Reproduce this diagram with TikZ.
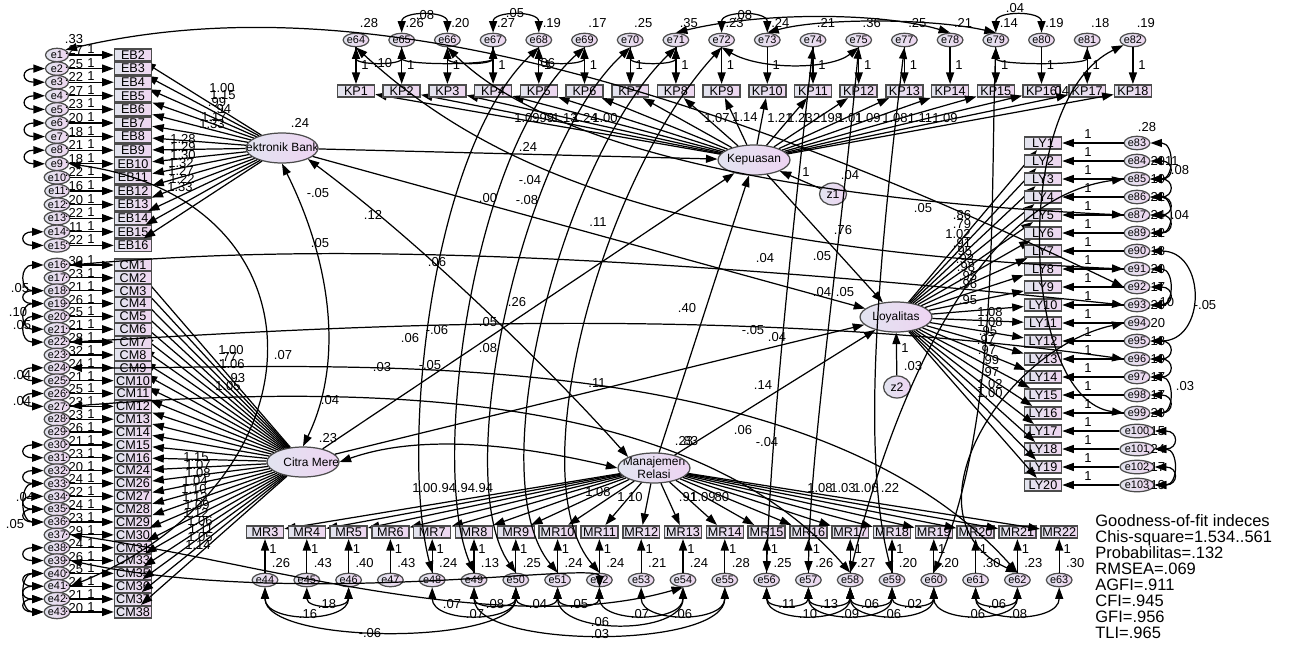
\documentclass[tikz,border=0pt]{standalone}
\usepackage{fontspec}
\setmainfont{Liberation Sans}
\usetikzlibrary{arrows.meta, shapes.geometric, positioning, calc}

\definecolor{boxleft}{RGB}{226,228,238}
\definecolor{boxright}{RGB}{238,214,240}
\definecolor{latleft}{RGB}{226,228,240}
\definecolor{latright}{RGB}{238,212,242}

\tikzset{
  indicator/.style={rectangle, draw=black!70, line width=0.9pt,
    left color=boxleft, right color=boxright,
    minimum width=0.74cm, minimum height=0.25cm, inner sep=0pt,
    font=\fontsize{7.2}{8}\selectfont},
  errorvar/.style={ellipse, draw=black!70, line width=0.7pt,
    left color=boxleft, right color=boxright,
    minimum width=0.46cm, minimum height=0.27cm, inner sep=0pt,
    font=\fontsize{6.2}{7}\selectfont},
  latent/.style={ellipse, draw=black!70, line width=0.7pt,
    left color=latleft, right color=latright,
    minimum width=1.44cm, minimum height=0.6cm, inner sep=0pt},
  latname/.style={path picture={\node[font=\fontsize{6.8}{7.6}\selectfont, align=center]
    at (path picture bounding box.center) {#1};}},
  disturb/.style={ellipse, draw=black!70, line width=0.7pt,
    left color=latleft, right color=latright,
    minimum width=0.54cm, minimum height=0.44cm, inner sep=0pt,
    font=\fontsize{7}{8}\selectfont},
  load/.style={-{Triangle[length=2.3mm,width=1.6mm]}, line width=0.7pt},
  cov/.style={{Triangle[length=2.3mm,width=1.6mm]}-{Triangle[length=2.3mm,width=1.6mm]}, line width=0.7pt},
  num/.style={font=\fontsize{7.4}{8}\selectfont, inner sep=0pt},
  fitnote/.style={font=\fontsize{9.4}{9.1}\selectfont, align=left, anchor=north west, inner sep=0pt}
}

\begin{document}
\begin{tikzpicture}[x=0.02cm, y=-0.02cm]
  \useasboundingbox (0,0) rectangle (1295,646);

  % latent variables and disturbances
  \node[latent, latname={\kern0.12cm Elektronik Banking}] (EBank) at (282,148) {};
  \node[latent, latname={\kern0.45cm Citra Merek}] (CitraM) at (303,462) {};
  \node[latent, latname={Kepuasan}] (Kep) at (754,160) {};
  \node[latent, latname={Loyalitas}] (Loy) at (896,317) {};
  \node[latent, latname={Manajemen\\Relasi}] (ManRel) at (654,468) {};
  \node[disturb] (z1) at (833,194) {z1};
  \node[disturb] (z2) at (897,387) {z2};

  % Elektronik Banking items
  \foreach \i in {1,...,15}{
    \pgfmathtruncatemacro\kk{\i+1}
    \pgfmathsetmacro\yy{55+(\i-1)*13.6}
    \node[indicator] (eb\kk) at (133,\yy) {EB\kk};
    \node[errorvar] (e\i) at (57,\yy) {e\i};
    \draw[load] (e\i) -- (eb\kk);
    \draw[load] (EBank) -- (eb\kk);
    \node[num] at ($(e\i)+(34,-6)$) {1};
  }
  \foreach \v [count=\i] in {.27,.25,.22,.27,.23,.20,.18,.21,.18,.22,.16,.20,.22,.11,.22}
    \node[num] at ($(e\i)+(17,-5)$) {\v};
  \node[num] at (74,39) {.33};

  % Citra Merek items
  \foreach \cc [count=\i] in {1,2,3,4,5,6,7,8,9,10,11,12,13,14,15,16,24,26,27,28,29,30,31,33,35,36,37,38}{
    \pgfmathtruncatemacro\nn{\i+15}
    \pgfmathsetmacro\yy{265+(\i-1)*12.85}
    \node[indicator] (cm\cc) at (133,\yy) {CM\cc};
    \node[errorvar] (e\nn) at (57,\yy) {e\nn};
    \draw[load] (e\nn) -- (cm\cc);
    \draw[load] (CitraM) -- (cm\cc);
    \node[num] at ($(e\nn)+(34,-5)$) {1};
  }
  \foreach \v [count=\i] in {.30,.23,.21,.26,.25,.21,.28,.32,.24,.21,.25,.23,.23,.26,.21,.23,.20,.24,.22,.24,.23,.29,.24,.26,.25,.24,.21,.20}{
    \pgfmathtruncatemacro\nn{\i+15}
    \node[num] at ($(e\nn)+(17,-4)$) {\v};
  }

  % Kepuasan items
  \foreach \nn [count=\i] in {64,65,66,67,68,69,70,71,72,73,74,75,77,78,79,80,81,82}{
    \pgfmathsetmacro\xx{356+(\i-1)*45.7}
    \node[indicator] (kp\i) at (\xx,91) {KP\i};
    \node[errorvar] (e\nn) at (\xx,40) {e\nn};
    \draw[load] (e\nn) -- (kp\i);
    \draw[load] (Kep) -- (kp\i);
    \node[num] at ($(e\nn)+(9,25)$) {1};
  }
  \foreach \nn/\v in {64/.28,65/.26,66/.20,67/.27,68/.19,69/.17,70/.25,71/.35,72/.23,
      73/.24,74/.21,75/.36,77/.25,78/.21,79/.14,80/.19,81/.18,82/.19}
    \node[num] at ($(e\nn)+(13,-17)$) {\v};

  % Loyalitas items
  \foreach \nn [count=\i] in {83,84,85,86,87,89,90,91,92,93,94,95,96,97,98,99,100,101,102,103}{
    \pgfmathsetmacro\yy{143+(\i-1)*18}
    \node[indicator] (ly\i) at (1043,\yy) {LY\i};
    \node[errorvar] (e\nn) at (1137,\yy) {e\nn};
    \draw[load] (e\nn) -- (ly\i);
    \draw[load] (Loy) -- (ly\i);
    \node[num] at ($(ly\i)+(45,-9)$) {1};
  }
  \node[num] at (1147,127) {.28};
  \foreach \nn/\v in {84/.29,85/.19,86/.22,87/.24,89/.12,90/.18,91/.20,92/.17,93/.20,94/.20,
      95/.18,96/.19,97/.17,98/.17,99/.20,100/.15,101/.24,102/.17,103/.19}
    \node[num] at ($(e\nn)+(19,0)$) {\v};

  % Manajemen Relasi items
  \foreach \i in {1,...,20}{
    \pgfmathtruncatemacro\kk{\i+2}
    \pgfmathtruncatemacro\nn{\i+43}
    \pgfmathsetmacro\xx{265+(\i-1)*41.8}
    \node[indicator] (mr\kk) at (\xx,532) {MR\kk};
    \node[errorvar] (e\nn) at (\xx,580) {e\nn};
    \draw[load] (e\nn) -- (mr\kk);
    \draw[load] (ManRel) -- (mr\kk);
    \node[num] at ($(e\nn)+(8,-31)$) {1};
  }
  \foreach \nn/\v in {44/.26,45/.43,46/.40,47/.43,48/.24,49/.13,50/.25,51/.24,52/.24,53/.21,
      54/.24,55/.28,56/.25,57/.26,58/.27,59/.20,60/.20,61/.30,62/.23,63/.30}
    \node[num] at ($(e\nn)+(16,-17)$) {\v};

  % structural paths
  \draw[load] (EBank) -- (Kep);
  \draw[load] (EBank) -- (Loy);
  \draw[load] (CitraM) -- (Kep);
  \draw[load] (CitraM) -- (Loy);
  \draw[load] (ManRel) -- (Kep);
  \draw[load] (ManRel) -- (Loy);
  \draw[load] (Kep) -- (Loy);
  \draw[load] (z1) -- (Kep);
  \draw[load] (z2) -- (Loy);

  % covariances between exogenous constructs
  \draw[cov] (EBank.south) .. controls (330,260) and (345,360) .. (CitraM.north);
  \draw[cov] (EBank.south east) .. controls (430,250) and (560,380) .. (ManRel.north west);
  \draw[cov] (CitraM.east) .. controls (430,430) and (540,450) .. (ManRel.west);

  % error covariances, left columns
  \foreach \a/\b in {2/3,4/5,6/7,8/9,14/15,16/18,18/19,19/21,20/22,24/25,26/27,30/31,
      32/33,34/35,35/36,33/36,38/39,40/41,41/42,42/43,40/43}
    \draw[cov] (e\a.west) .. controls +(-24,0) and +(-24,0) .. (e\b.west);

  % error covariances, Kepuasan row
  \foreach \a/\b in {65/66,67/68,72/73,79/80}
    \draw[cov] (e\a.north) .. controls +(0,-22) and +(0,-22) .. (e\b.north);
  \foreach \a/\b in {64/65,65/67,66/67,68/69,70/71,79/81}
    \draw[cov] (e\a.south) .. controls +(0,18) and +(0,18) .. (e\b.south);
  \draw[cov] (e71.north) .. controls (760,12) and (880,12) .. (e78.north);
  \draw[cov] (e73.north) .. controls (820,18) and (930,18) .. (e79.north);
  \draw[cov] (e72.south) .. controls (760,70) and (830,70) .. (e75.south);

  % error covariances, Loyalitas column
  \foreach \a/\b in {83/85,84/85,85/86,86/87,87/89,86/89,91/93,92/93,95/96,96/97,
      97/99,98/99,100/101,102/103,101/103}
    \draw[cov] (e\a.east) .. controls +(24,0) and +(24,0) .. (e\b.east);
  \draw[cov] (e90.east) .. controls +(56,0) and +(56,0) .. (e95.east);

  % error covariances, Manajemen Relasi row
  \foreach \a/\b/\d in {45/46/22,49/50/22,50/51/22,51/52/22,56/57/22,57/58/22,58/59/22,
      59/60/22,61/62/22,44/46/36,48/50/36,52/54/36,53/55/36,56/58/36,57/59/36,
      58/60/36,60/62/36,61/63/36,51/54/48,49/55/62,44/50/58}
    \draw[cov] (e\a.south) .. controls +(0,\d) and +(0,\d) .. (e\b.south);

  % long error covariances across the model
  \draw[cov] (e1.north east) .. controls (330,-12) and (650,60) .. (e92.west);
  \draw[cov] (e9.east) .. controls (330,200) and (330,480) .. (e41.east);
  \draw[cov] (e16.east) .. controls (250,250) and (500,240) .. (e93.west);
  \draw[cov] (e22.east) .. controls (300,330) and (700,300) .. (e96.west);
  \draw[cov] (e24.east) .. controls (300,370) and (800,330) .. (e62.north);
  \draw[cov] (e27.east) .. controls (400,380) and (700,400) .. (e58.north);
  \draw[cov] (e37.east) .. controls (250,560) and (500,640) .. (e54.south);
  \draw[cov] (e39.east) .. controls (300,610) and (600,560) .. (e52.south);
  \draw[cov] (e68.south) .. controls (430,150) and (400,450) .. (e48.north);
  \draw[cov] (e69.south) .. controls (470,150) and (430,470) .. (e49.north);
  \draw[cov] (e70.south) .. controls (520,150) and (450,480) .. (e50.north);
  \draw[cov] (e71.south) .. controls (560,160) and (480,480) .. (e51.north);
  \draw[cov] (e72.south) .. controls (600,180) and (520,480) .. (e52.north);
  \draw[cov] (e74.south) .. controls (790,250) and (770,450) .. (e56.north);
  \draw[cov] (e75.south) .. controls (840,250) and (810,450) .. (e57.north);
  \draw[cov] (e77.south) .. controls (880,250) and (860,450) .. (e59.north);
  \draw[cov] (e79.south) .. controls (990,200) and (1000,420) .. (e60.north);
  \draw[cov] (e82.south west) .. controls (1010,100) and (1020,400) .. (e99.west);
  \draw[cov] (e85.west) .. controls (960,200) and (880,450) .. (e58.north);
  \draw[cov] (e94.west) .. controls (1000,350) and (900,520) .. (e62.north);
  \draw[cov] (e64.south) .. controls (500,180) and (700,250) .. (e91.west);
  \draw[cov] (e66.south) .. controls (550,150) and (800,200) .. (e87.west);

  % loading estimates
  \foreach \v/\x/\y in {1.00/222/88,1.15/223/95,.99/217/102,.94/222/109,1.17/214/117,
      1.33/212/124,1.28/183/139,1.29/183/147,1.30/183/155,1.32/181/163,1.27/181/171,
      1.22/182/179,1.33/180/187}
    \node[num] at (\x,\y) {\v};
  \foreach \v/\x/\y in {1.00/231/350,.77/228/357,1.06/232/364,.93/236/378,1.05/228/386,
      1.15/196/457,1.07/198/465,1.08/198/473,1.04/195/481,1.10/194/489,1.13/195/497,
      1.09/197/505,1.12/196/513,1.06/200/521,1.11/201/529,1.05/200/537,1.14/198/545}
    \node[num] at (\x,\y) {\v};
  \foreach \v/\x/\y in {1.09/527/118,.99/545/118,1.13/565/118,1.24/585/118,1.00/605/118,
      1.07/717/118,1.14/745/117,1.21/780/118,1.23/800/118,1.21/815/118,.98/833/118,
      1.01/850/118,1.09/868/118,1.08/895/118,1.11/920/118,1.09/945/118}
    \node[num] at (\x,\y) {\v};
  \foreach \v/\x/\y in {.86/962/215,.79/962/224,1.02/958/234,.91/962/243,.95/963/251,
      .93/965/259,.98/966/267,.95/968/276,.96/968/284,.95/968/300,1.08/990/312,
      1.08/990/322,.95/988/331,.97/986/340,.97/987/350,.99/990/360,.97/990/372,
      1.02/990/384,1.00/990/393}
    \node[num] at (\x,\y) {\v};
  \foreach \v/\x/\y in {1.00/425/488,.94/447/488,.94/466/488,.94/484/488,1.08/598/492,
      1.10/630/497,.91/688/497,1.09/703/497,.80/720/497,1.08/820/488,1.03/843/488,
      1.06/866/488,.22/890/488}
    \node[num] at (\x,\y) {\v};

  % path, variance and covariance estimates
  \foreach \v/\x/\y in {.24/300/123,.23/328/438,.23/684/441,.83/689/441,.24/528/147,
      -.04/530/180,.00/488/198,-.08/527/200,.11/598/222,-.05/318/193,.12/373/215,
      .05/320/243,.06/437/262,.26/517/302,.40/687/308,.76/843/230,.04/850/175,1/806/172,
      .05/822/256,.04/765/258,.04/822/292,.05/845/292,.05/923/208,-.05/753/330,
      .04/777/337,.14/763/385,1/905/348,.03/913/366,.11/597/383,.07/283/355,
      .04/330/400,.06/410/338,-.06/437/330,.05/488/322,.08/488/348,-.05/430/365,
      .03/382/367,.06/743/430,-.04/767/442}
    \node[num] at (\x,\y) {\v};
  % error covariance estimates
  \foreach \v/\x/\y in {.05/20/288,.10/18/312,.05/22/325,.04/22/375,.04/22/401,
      .04/25/497,.05/15/524,.08/425/15,.05/515/13,.08/743/15,.04/1015/8,.10/383/63,
      .06/546/63,.04/1060/91,.11/1170/161,.08/1180/170,.04/1180/215,-.05/1205/305,
      .10/1165/302,.03/1185/386,.16/308/614,.18/327/604,-.06/370/633,.07/452/604,
      .07/475/614,.08/495/604,.04/538/604,.05/579/604,.06/600/622,.03/600/634,
      .07/640/614,.06/683/614,.11/787/604,.10/808/614,.13/829/604,.09/850/614,
      .06/870/604,.06/892/614,.02/913/604,.06/976/614,.06/997/604,.08/1018/614}
    \node[num] at (\x,\y) {\v};

  % fit indices
  \node[fitnote] (fit) at (1095,514) {Goodness-of-fit indeces\\Chis-square=1.534..561\\
    Probabilitas=.132\\RMSEA=.069\\AGFI=.911\\CFI=.945\\GFI=.956\\TLI=.965};
\end{tikzpicture}
\end{document}
